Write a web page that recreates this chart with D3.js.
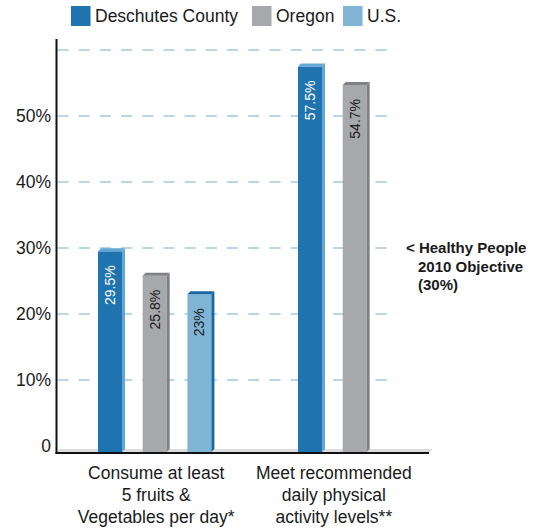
<!DOCTYPE html>
<html>
<head>
<meta charset="utf-8">
<script src="https://cdn.jsdelivr.net/npm/d3@7"></script>
<style>
  html, body { margin: 0; padding: 0; background: #fff; }
  svg { display: block; font-family: "Liberation Sans", Arial, Helvetica, sans-serif; }
</style>
</head>
<body>
<svg id="chart" width="537" height="529"></svg>
<script>
// Health behaviour indicators, percent of adults
const groups = ["fruitveg", "activity"];
const groupLabels = [
  ["Consume at least", "5 fruits &", "Vegetables per day*"],
  ["Meet recommended", "daily physical", "activity levels**"]
];
const series = ["Deschutes County", "Oregon", "U.S."];
const deschutes = [29.5, 57.5];
const oregon = [25.8, 54.7];
const us = [23, null];
const deschutesLabels = ["29.5%", "57.5%"];
const oregonLabels = ["25.8%", "54.7%"];
const usLabels = ["23%", null];
const yTicks = [0, 10, 20, 30, 40, 50];
const yTickLabels = ["0", "10%", "20%", "30%", "40%", "50%"];
const gridValues = [10, 20, 30, 40, 50, 60];
const objectiveLines = ["< Healthy People", "2010 Objective", "(30%)"];

// face / side-and-cap / label colours per series
const faceColors = ["#1f73ae", "#a7a8ab", "#80b4d5"];
const sideColors = ["#62a6d6", "#808184", "#1868a7"];
const labelColors = ["#ffffff", "#1a1a1a", "#1a1a1a"];

const seriesValues = [deschutes, oregon, us];
const seriesLabels = [deschutesLabels, oregonLabels, usLabels];

const svg = d3.select("#chart");

const axisX = 56.5;
const floorY = 452;
const depth = 3;

const y = d3.scaleLinear().domain([0, 60]).range([446, 50]);
const x0 = d3.scaleBand().domain(groups).range([98, 498]).padding(0);
const x1 = d3.scaleBand().domain(series).range([0, 113.4]).paddingInner(0.463).paddingOuter(0);

// dashed gridlines
svg.append("g")
  .selectAll("line")
  .data(gridValues)
  .join("line")
  .attr("x1", axisX + 1)
  .attr("x2", 397)
  .attr("y1", d => y(d))
  .attr("y2", d => y(d))
  .attr("stroke", "#b9d5ea")
  .attr("stroke-width", 2)
  .attr("stroke-dasharray", "11,10.2");

// y tick labels
svg.append("g")
  .selectAll("text")
  .data(yTicks)
  .join("text")
  .attr("x", 51)
  .attr("y", d => y(d))
  .attr("dy", "0.35em")
  .attr("text-anchor", "end")
  .attr("font-size", 17.5)
  .attr("fill", "#1a1a1a")
  .text((d, i) => yTickLabels[i]);

// floor shading
svg.append("path")
  .attr("d", `M${axisX},${floorY} L${axisX + depth},${floorY - depth} L${430 + depth},${floorY - depth} L430,${floorY} Z`)
  .attr("fill", "#dcdcdc");

// bars
const bars = [];
groups.forEach((g, gi) => {
  series.forEach((s, si) => {
    const v = seriesValues[si][gi];
    if (v == null) return;
    bars.push({ g, gi, s, si, v, label: seriesLabels[si][gi] });
  });
});

const barG = svg.append("g")
  .selectAll("g")
  .data(bars)
  .join("g");

barG.each(function(d) {
  const gEl = d3.select(this);
  const xl = x0(d.g) + x1(d.s);
  const w = x1.bandwidth();
  const xr = xl + w;
  const top = y(d.v);
  // front face
  gEl.append("rect")
    .attr("x", xl).attr("y", top)
    .attr("width", w).attr("height", floorY - top)
    .attr("fill", faceColors[d.si]);
  // right side
  gEl.append("path")
    .attr("d", `M${xr},${top} L${xr + depth},${top - depth} L${xr + depth},${floorY - depth} L${xr},${floorY} Z`)
    .attr("fill", sideColors[d.si]);
  // top cap
  gEl.append("path")
    .attr("d", `M${xl},${top} L${xl + depth},${top - depth} L${xr + depth},${top - depth} L${xr},${top} Z`)
    .attr("fill", sideColors[d.si]);
  // value label, rotated
  const cx = xl + w / 2;
  const ly = top + 14;
  gEl.append("text")
    .attr("transform", `translate(${cx},${ly}) rotate(-90)`)
    .attr("dy", "0.36em")
    .attr("text-anchor", "end")
    .attr("font-size", 14)
    .attr("fill", labelColors[d.si])
    .text(d.label);
});

// axes lines
svg.append("line")
  .attr("x1", axisX).attr("x2", axisX)
  .attr("y1", 39).attr("y2", floorY + 2)
  .attr("stroke", "#111").attr("stroke-width", 2);
svg.append("line")
  .attr("x1", axisX - 1).attr("x2", 429)
  .attr("y1", floorY + 1).attr("y2", floorY + 1)
  .attr("stroke", "#111").attr("stroke-width", 2);

// category labels, centred under each group's bars
groups.forEach((g, gi) => {
  const present = bars.filter(b => b.gi === gi);
  const left = d3.min(present, b => x0(b.g) + x1(b.s));
  const right = d3.max(present, b => x0(b.g) + x1(b.s) + x1.bandwidth() + depth);
  const cx = (left + right) / 2;
  const t = svg.append("text")
    .attr("text-anchor", "middle")
    .attr("font-size", 17.5)
    .attr("fill", "#1a1a1a");
  groupLabels[gi].forEach((line, li) => {
    t.append("tspan").attr("x", cx).attr("y", 479 + li * 22).text(line);
  });
});

// objective annotation at 30%
const ann = svg.append("text")
  .attr("font-size", 15)
  .attr("font-weight", "bold")
  .attr("fill", "#1a1a1a");
const annY = [y(30) + 4.5, y(30) + 23.5, y(30) + 41.5];
const annX = [406, 418, 418];
objectiveLines.forEach((line, i) => {
  ann.append("tspan").attr("x", annX[i]).attr("y", annY[i]).text(line);
});

// legend
const legend = svg.append("g");
const legendX = [71, 252, 343];
series.forEach((s, i) => {
  legend.append("rect")
    .attr("x", legendX[i]).attr("y", 6)
    .attr("width", 19.5).attr("height", 20)
    .attr("fill", faceColors[i]);
  legend.append("text")
    .attr("x", legendX[i] + 24).attr("y", 22)
    .attr("font-size", 17.5)
    .attr("fill", "#1a1a1a")
    .text(s);
});
</script>
</body>
</html>
